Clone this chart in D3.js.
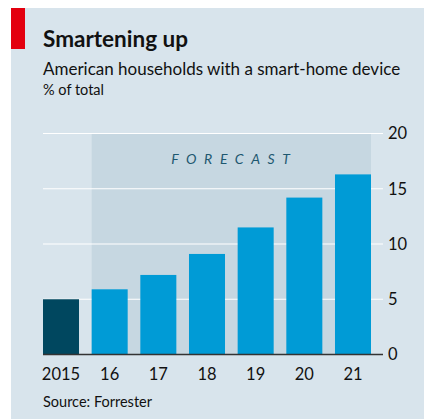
<!DOCTYPE html>
<html>
<head>
<meta charset="utf-8">
<script src="https://cdn.jsdelivr.net/npm/d3@7"></script>
<style>
  body { margin: 0; background: #fff; }
  text { font-family: Lato, "Open Sans", sans-serif; }
</style>
</head>
<body>
<div id="chart"></div>
<script>
// data
const years = ["2015", "16", "17", "18", "19", "20", "21"];
const shares = [5.0, 5.9, 7.2, 9.1, 11.5, 14.2, 16.3];
const forecastYears = ["16", "17", "18", "19", "20", "21"];
const yTicks = [0, 5, 10, 15, 20];

const W = 424, H = 419;

const svg = d3.select("#chart")
    .append("svg")
    .attr("width", W)
    .attr("height", H);

// panel background
svg.append("rect")
    .attr("x", 11).attr("y", 8)
    .attr("width", W - 11).attr("height", H - 8)
    .attr("fill", "#d8e4ec");

svg.append("rect")
    .attr("x", 11).attr("y", 8)
    .attr("width", 14).attr("height", 41)
    .attr("fill", "#e3000f");

// titles
svg.append("text")
    .attr("x", 43).attr("y", 47)
    .style("font-size", "22.5px")
    .style("font-weight", "bold")
    .attr("fill", "#111")
    .text("Smartening up");

svg.append("text")
    .attr("x", 43).attr("y", 75)
    .style("font-size", "17px")
    .attr("fill", "#111")
    .text("American households with a smart-home device");

svg.append("text")
    .attr("x", 43).attr("y", 95)
    .style("font-size", "14.5px")
    .attr("fill", "#111")
    .text("% of total");

// scales
const x = d3.scaleBand()
    .domain(years)
    .range([43, 371])
    .paddingInner(0.26)
    .paddingOuter(0);

const y = d3.scaleLinear()
    .domain([0, 20])
    .range([354.5, 133.5]);

// forecast shading
const fx0 = x(forecastYears[0]);
const fx1 = x(forecastYears[forecastYears.length - 1]) + x.bandwidth();
svg.append("rect")
    .attr("x", fx0).attr("y", y(20))
    .attr("width", fx1 - fx0).attr("height", y(0) - y(20))
    .attr("fill", "#c6d7e1");

svg.append("text")
    .attr("x", (fx0 + fx1) / 2 + 3).attr("y", 164)
    .attr("text-anchor", "middle")
    .style("font-size", "14px")
    .style("font-style", "italic")
    .style("letter-spacing", "7.6px")
    .attr("fill", "#1e5870")
    .text("FORECAST");

// gridlines + right axis
const yAxis = svg.append("g")
    .attr("transform", "translate(383,0)")
    .call(d3.axisRight(y).tickValues(yTicks).tickSize(0).tickPadding(5));
yAxis.select(".domain").remove();
yAxis.selectAll("text")
    .style("font-family", "Lato, 'Open Sans', sans-serif")
    .style("font-size", "16.5px")
    .attr("fill", "#111");

svg.append("g")
    .selectAll("line")
    .data(yTicks.filter(d => d > 0))
    .join("line")
    .attr("x1", 43).attr("x2", 383)
    .attr("y1", d => y(d)).attr("y2", d => y(d))
    .attr("stroke", "#fff")
    .attr("stroke-width", 1.2);

// bars
svg.append("g")
    .selectAll("rect")
    .data(years)
    .join("rect")
    .attr("x", d => x(d))
    .attr("y", (d, i) => y(shares[i]))
    .attr("width", x.bandwidth())
    .attr("height", (d, i) => y(0) - y(shares[i]))
    .attr("fill", (d, i) => i === 0 ? "#00475f" : "#009bd6");

// baseline
svg.append("line")
    .attr("x1", 43).attr("x2", 383)
    .attr("y1", y(0)).attr("y2", y(0))
    .attr("stroke", "#333")
    .attr("stroke-width", 1.5);

// x axis labels
const xAxis = svg.append("g")
    .attr("transform", `translate(0,${y(0)})`)
    .call(d3.axisBottom(x).tickSize(0).tickPadding(14));
xAxis.select(".domain").remove();
xAxis.selectAll("text")
    .style("font-family", "Lato, 'Open Sans', sans-serif")
    .style("font-size", "16.5px")
    .attr("fill", "#111");

svg.append("text")
    .attr("x", 43).attr("y", 407)
    .style("font-size", "14.5px")
    .attr("fill", "#111")
    .text("Source: Forrester");
</script>
</body>
</html>
